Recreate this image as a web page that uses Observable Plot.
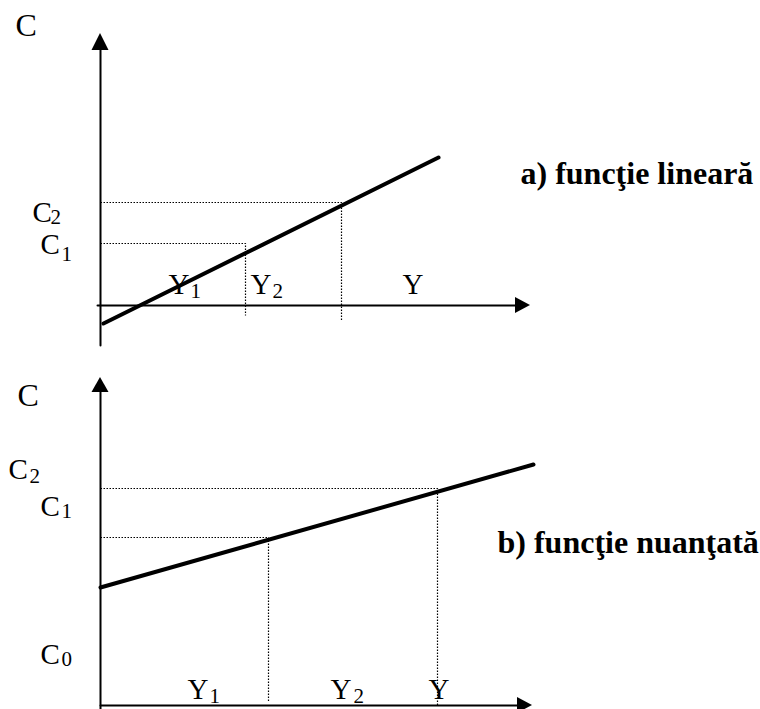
<!DOCTYPE html>
<html><head><meta charset="utf-8">
<script src="https://cdn.jsdelivr.net/npm/d3@7"></script>
<script src="https://cdn.jsdelivr.net/npm/@observablehq/plot@0.6"></script>
<style>body{margin:0;background:#fff} #chart svg{display:block}</style>
</head><body><div id="chart"></div>
<script>
// ---------- panel a) funcţie lineară (units: Y across, C up) ----------
const aLine = [{x: 0.3, y: -1.8}, {x: 33.8, y: 14.8}];
const aGuides = [
  {g: "C2", x: 0, y: 10.3}, {g: "C2", x: 24.1, y: 10.3}, {g: "C2", x: 24.1, y: -1.5},
  {g: "C1", x: 0, y: 6.2}, {g: "C1", x: 14.5, y: 6.2}, {g: "C1", x: 14.5, y: -1.0}
];
const aAxisV = [{x: 0, y: -4}, {x: 0, y: 25.5}];
const aAxisH = [{x: -0.3, y: 0}, {x: 41.5, y: 0}];
const aHeadV = [{x: -0.85, y1: 25.5, y2: 25.5}, {x: 0, y1: 25.5, y2: 27.2}, {x: 0.85, y1: 25.5, y2: 25.5}];
const aHeadH = [{y: -0.8, x1: 41.5, x2: 41.5}, {y: 0, x1: 41.5, x2: 43.0}, {y: 0.8, x1: 41.5, x2: 41.5}];
const aAxisLabel = [{t: "C", x: -8.5, y: 27.0}];
const aLabels = [
  {t: "C", x: -6.8, y: 8.4}, {t: "C", x: -6.0, y: 5.2},
  {t: "Y", x: 6.8, y: 1.2}, {t: "Y", x: 15.0, y: 1.2}, {t: "Y", x: 30.2, y: 1.2}
];
const aSubs = [
  {t: "2", x: -5.0, y: 8.2}, {t: "1", x: -3.9, y: 4.5},
  {t: "1", x: 9.0, y: 0.8}, {t: "2", x: 17.2, y: 0.8}
];
const aTitle = [{t: "a) funcţie lineară", x: 42.0, y: 12.2}];

// ---------- panel b) funcţie nuanţată ----------
const bLine = [{x: 0, y: 11.8}, {x: 43.3, y: 24.1}];
const bGuides = [
  {g: "C2", x: 0, y: 21.7}, {g: "C2", x: 33.7, y: 21.7}, {g: "C2", x: 33.7, y: 0},
  {g: "C1", x: 0, y: 16.8}, {g: "C1", x: 16.8, y: 16.8}, {g: "C1", x: 16.8, y: 0.3}
];
const bAxisV = [{x: 0, y: -0.6}, {x: 0, y: 31.3}];
const bAxisH = [{x: 0, y: 0}, {x: 41.7, y: 0}];
const bHeadV = [{x: -0.85, y1: 31.3, y2: 31.3}, {x: 0, y1: 31.3, y2: 32.8}, {x: 0.85, y1: 31.3, y2: 31.3}];
const bHeadH = [{y: -0.8, x1: 41.7, x2: 41.7}, {y: 0, x1: 41.7, x2: 43.2}, {y: 0.8, x1: 41.7, x2: 41.7}];
const bAxisLabel = [{t: "C", x: -8.3, y: 30.0}];
const bLabels = [
  {t: "C", x: -9.2, y: 22.7}, {t: "C", x: -6.0, y: 19.0}, {t: "C", x: -6.0, y: 4.2},
  {t: "Y", x: 8.7, y: 0.7}, {t: "Y", x: 23.0, y: 0.7}, {t: "Y", x: 32.8, y: 0.7}
];
const bSubs = [
  {t: "2", x: -7.1, y: 22.3}, {t: "1", x: -3.9, y: 18.8}, {t: "0", x: -3.9, y: 4.0},
  {t: "1", x: 10.9, y: 0.3}, {t: "2", x: 25.3, y: 0.3}
];
const bTitle = [{t: "b) funcţie nuanţată", x: 39.7, y: 15.3}];

const FONT = "'Liberation Serif','Times New Roman',serif";

function panel(p, height, ydomain) {
  const txt = (data, size, weight) => Plot.text(data, {
    x: "x", y: "y", text: "t", textAnchor: "start", lineAnchor: "bottom",
    fontFamily: FONT, fontSize: size, fontWeight: weight || "normal", fill: "black"
  });
  return Plot.plot({
    width: 760, height,
    margin: 0,
    x: {domain: [-10, 66], axis: null},
    y: {domain: ydomain, axis: null},
    style: {background: "white", overflow: "visible"},
    marks: [
      Plot.line(p.guides, {x: "x", y: "y", z: "g", stroke: "black", strokeWidth: 1.2, strokeDasharray: "1.5,1.5", strokeLinecap: "butt"}),
      Plot.line(p.axisV, {x: "x", y: "y", stroke: "black", strokeWidth: 2}),
      Plot.line(p.axisH, {x: "x", y: "y", stroke: "black", strokeWidth: 2}),
      Plot.areaY(p.headV, {x: "x", y1: "y1", y2: "y2", fill: "black"}),
      Plot.areaX(p.headH, {y: "y", x1: "x1", x2: "x2", fill: "black"}),
      txt(p.axisLabel, 32),
      txt(p.labels, 29),
      txt(p.subs, 21),
      txt(p.title, 32, "bold"),
      Plot.line(p.line, {x: "x", y: "y", stroke: "black", strokeWidth: 4})
    ]
  });
}

const chart = document.getElementById("chart");
chart.append(panel({line: aLine, guides: aGuides, axisV: aAxisV, axisH: aAxisH, headV: aHeadV, headH: aHeadH,
  axisLabel: aAxisLabel, labels: aLabels, subs: aSubs, title: aTitle}, 350, [-4.5, 30.5]));
chart.append(panel({line: bLine, guides: bGuides, axisV: bAxisV, axisH: bAxisH, headV: bHeadV, headH: bHeadH,
  axisLabel: bAxisLabel, labels: bLabels, subs: bSubs, title: bTitle}, 359, [-0.4, 35.5]));
</script>
</body></html>
